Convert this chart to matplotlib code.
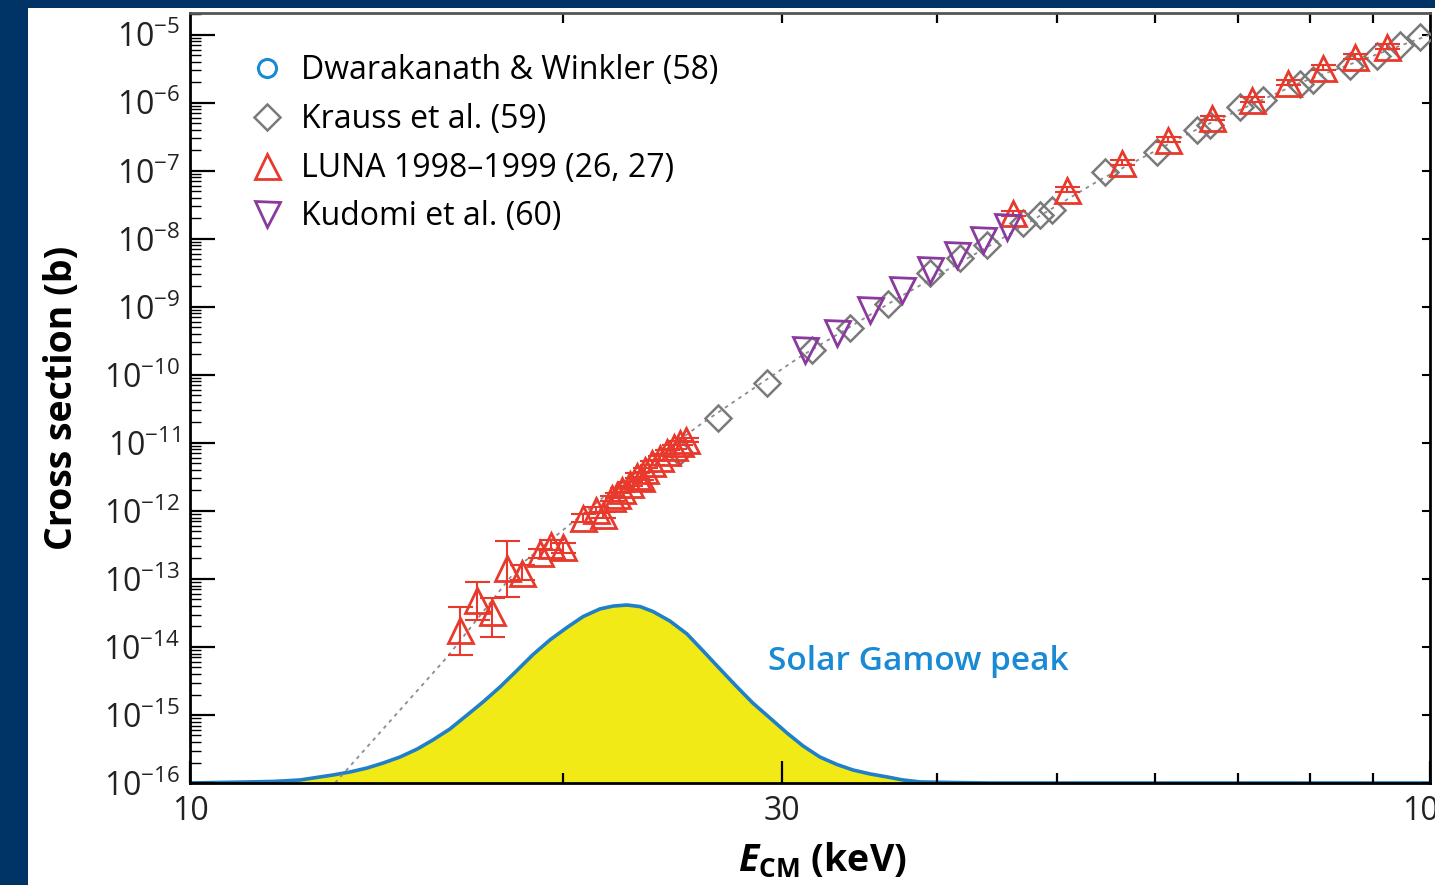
import numpy as np
import matplotlib
matplotlib.use("Agg")
import matplotlib.pyplot as plt
from matplotlib.patches import Rectangle
from matplotlib.ticker import LogLocator, NullFormatter, NullLocator, FixedLocator, FixedFormatter

plt.rcParams["font.family"] = ["Open Sans", "DejaVu Sans"]
plt.rcParams["mathtext.fontset"] = "custom"
plt.rcParams["mathtext.rm"] = "Open Sans"
plt.rcParams["mathtext.it"] = "Open Sans:italic"
plt.rcParams["mathtext.bf"] = "Open Sans:bold"
plt.rcParams["mathtext.bfit"] = "Open Sans:bold:italic"

# data (E in keV, cross section in barn)
dw_E = []
dw_sigma = []

krauss_E = [24.8, 26.66, 29.19, 31.73, 34.06, 36.55, 39.53, 41.78, 43.93, 46.96, 48.48,
            49.57, 54.7, 60.23, 64.89, 66.47, 70.29, 73.33, 78.56, 80.48, 86.2, 90.6, 94.6, 98.1]
krauss_sigma = [7.4e-12, 2.33e-11, 7.6e-11, 2.33e-10, 4.9e-10, 1.1e-9, 3.16e-9, 5.26e-9, 8.2e-9,
                1.72e-8, 2.25e-8, 2.67e-8, 9.66e-8, 1.9e-7, 4.0e-7, 4.74e-7, 8.7e-7, 1.11e-6,
                1.9e-6, 2.18e-6, 3.5e-6, 4.9e-6, 7.1e-6, 9.3e-6]

luna_E = [16.51, 17.04, 17.52, 18.02, 18.52, 19.15, 19.55, 19.98, 20.75, 21.26, 21.54,
          21.89, 22.1, 22.31, 22.64, 22.94, 23.1, 23.28, 23.59, 23.93, 24.25, 24.56, 24.84, 25.12,
          46.1, 50.96, 56.44, 61.46, 66.72, 71.87, 76.83, 81.98, 87.0, 92.3]
luna_sigma = [1.78e-14, 4.9e-14, 3.3e-14, 1.44e-13, 1.23e-13, 2.4e-13, 3.2e-13, 2.9e-13, 7.9e-13,
              1.04e-12, 8.7e-13, 1.55e-12, 1.7e-12, 2.04e-12, 2.5e-12, 3.3e-12, 3.0e-12, 4.0e-12,
              5.1e-12, 6.0e-12, 7.4e-12, 8.8e-12, 1.0e-11, 1.1e-11,
              2.41e-8, 5.26e-8, 1.31e-7, 2.86e-7, 6.0e-7, 1.11e-6, 1.97e-6, 3.27e-6, 4.74e-6, 6.7e-6]
luna_lo = [7.6e-15, 2.5e-14, 1.4e-14, 5.5e-14, 9.5e-14, 2.0e-13, 2.7e-13, 2.4e-13, 6.9e-13,
           9.3e-13, 7.8e-13, 1.42e-12, 1.56e-12, 1.88e-12, 2.3e-12, 3.05e-12, 2.8e-12, 3.7e-12,
           4.75e-12, 5.6e-12, 6.9e-12, 8.2e-12, 9.3e-12, 1.03e-11,
           2.2e-8, 4.8e-8, 1.2e-7, 2.62e-7, 5.5e-7, 1.02e-6, 1.8e-6, 3.0e-6, 4.35e-6, 6.15e-6]
luna_hi = [3.9e-14, 9.0e-14, 5.2e-14, 3.6e-13, 1.6e-13, 2.8e-13, 3.7e-13, 3.4e-13, 9.0e-13,
           1.15e-12, 9.6e-13, 1.68e-12, 1.84e-12, 2.2e-12, 2.7e-12, 3.55e-12, 3.2e-12, 4.3e-12,
           5.45e-12, 6.4e-12, 7.9e-12, 9.4e-12, 1.07e-11, 1.17e-11,
           2.6e-8, 5.7e-8, 1.42e-7, 3.1e-7, 6.5e-7, 1.2e-6, 2.14e-6, 3.55e-6, 5.15e-6, 7.25e-6]

kudomi_E = [31.33, 33.25, 35.35, 37.52, 39.53, 41.54, 43.6, 45.6]
kudomi_sigma = [2.33e-10, 4.15e-10, 9.0e-10, 1.78e-9, 3.5e-9, 5.8e-9, 9.7e-9, 1.5e-8]

fit_E = [13.09, 16.12, 18.46, 21.41, 25.77, 31.04, 37.37, 45.0, 54.2, 65.25, 78.56, 100.0]
fit_sigma = [1e-16, 7.1e-15, 1.6e-13, 1.45e-12, 1.84e-11, 1.84e-10, 1.4e-9, 9.7e-9, 7.4e-8,
             4.3e-7, 1.97e-6, 1e-5]

# Gamow peak, relative units (peak = 1)
gamow_E = [10.0, 11.18, 11.7, 12.27, 13.04, 13.46, 13.89, 14.31, 14.77, 15.25, 15.70, 16.20,
           16.73, 17.23, 17.78, 18.35, 18.91, 19.52, 20.14, 20.75, 21.41, 21.94, 22.51, 23.07,
           23.63, 24.38, 25.16, 25.93, 26.76, 27.62, 28.44, 29.36, 30.30, 31.22, 32.21, 33.25,
           34.25, 35.35, 36.49, 37.58, 38.80, 41.02, 44.18, 100.0]
gamow_rel = [0.0, 0.006, 0.009, 0.017, 0.045, 0.062, 0.084, 0.112, 0.146, 0.191, 0.242, 0.303,
             0.382, 0.455, 0.539, 0.632, 0.722, 0.805, 0.874, 0.935, 0.978, 0.994, 1.0, 0.991,
             0.963, 0.910, 0.838, 0.742, 0.640, 0.539, 0.449, 0.365, 0.281, 0.208, 0.146, 0.104,
             0.073, 0.051, 0.034, 0.017, 0.006, 0.003, 0.0, 0.0]

navy = "#003466"
red = "#e8392c"
grey = "#7a7a7a"
purple = "#8a3a9e"
blue = "#1a8ad4"

fig = plt.figure(figsize=(14.35, 8.85), dpi=100, facecolor=navy)
fig.patches.append(Rectangle((28 / 1435, 0), 1 - 28 / 1435, 1 - 8 / 885,
                             transform=fig.transFigure, facecolor="white",
                             edgecolor="none", zorder=-10))

ax = fig.add_axes([190 / 1435, 102 / 885, 1240 / 1435, 770 / 885])
ax2 = ax.twinx()
ax.set_zorder(ax2.get_zorder() + 1)
ax.patch.set_visible(False)

# gamow peak on a hidden linear axis
ax2.fill_between(gamow_E, 0, gamow_rel, color="#f2ea16", lw=0)
ax2.plot(gamow_E, gamow_rel, color="#1f7fc8", lw=2.6, solid_joinstyle="round")
ax2.set_ylim(0, 770 / 178)
ax2.axis("off")

ax.set_xscale("log")
ax.set_yscale("log")
ax.set_xlim(10, 100)
ax.set_ylim(1e-16, 10 ** -4.68)

ax.plot(fit_E, fit_sigma, color="#8c8c8c", lw=1.3, ls=(0, (2, 2.5)), zorder=1)

h_dw, = ax.plot(dw_E, dw_sigma, "o", ms=13, mfc="none", mec=blue, mew=2.2)
h_kr, = ax.plot(krauss_E, krauss_sigma, "D", ms=13, mfc="none", mec=grey, mew=1.8, zorder=3)
yerr = np.array([[s - lo for s, lo in zip(luna_sigma, luna_lo)],
                 [hi - s for s, hi in zip(luna_sigma, luna_hi)]])
ax.errorbar(luna_E, luna_sigma, yerr=yerr, fmt="none", ecolor=red, elinewidth=1.5,
            capsize=9, capthick=1.5, zorder=4)
h_lu, = ax.plot(luna_E, luna_sigma, "^", ms=18, mfc="none", mec=red, mew=2, zorder=4)
h_ku, = ax.plot(kudomi_E, kudomi_sigma, "v", ms=18, mfc="none", mec=purple, mew=2, zorder=4)

# ticks
ax.yaxis.set_major_locator(LogLocator(base=10, numticks=30))
ax.yaxis.set_minor_locator(LogLocator(base=10, subs=np.arange(2, 10), numticks=300))
ax.yaxis.set_minor_formatter(NullFormatter())
ax.xaxis.set_major_locator(FixedLocator([10, 30, 100]))
ax.xaxis.set_major_formatter(FixedFormatter(["10", "30", "100"]))
ax.xaxis.set_minor_locator(FixedLocator([20, 40, 50, 60, 70, 80, 90]))
ax.xaxis.set_minor_formatter(NullFormatter())
ax.tick_params(axis="y", which="major", direction="in", length=18, width=1.6,
               labelsize=23, pad=7, labelcolor="#222222")
ax.tick_params(axis="y", which="minor", direction="in", length=8, width=1.0)
ax.tick_params(axis="x", which="major", direction="in", length=16, width=1.6,
               labelsize=23, pad=9, labelcolor="#222222")
ax.tick_params(axis="x", which="minor", direction="in", length=7, width=1.6)

secy = ax.secondary_yaxis("right")
secy.yaxis.set_major_locator(LogLocator(base=10, numticks=30))
secy.yaxis.set_minor_locator(NullLocator())
secy.tick_params(direction="in", length=6, width=1.5, labelright=False)
secx = ax.secondary_xaxis("top")
secx.xaxis.set_major_locator(FixedLocator([20, 30, 40, 50, 60, 70, 80, 90]))
secx.xaxis.set_minor_locator(NullLocator())
secx.tick_params(direction="in", length=7, width=1.6, labeltop=False)

for sp in ax.spines.values():
    sp.set_linewidth(2)
ax.spines["top"].set_color("#555555")

ax.set_ylabel("Cross section (b)", fontsize=27, fontweight="bold", labelpad=16)
ax.set_xlabel(r"$\mathbfit{E}_{\mathbf{CM}}$ (keV)", fontsize=27, fontweight="bold",
              labelpad=9)
ax.xaxis.label.set_x(0.51)

ax.text(0.466, 0.158, "Solar Gamow peak", transform=ax.transAxes, color=blue,
        fontsize=24, fontweight="semibold", va="center", ha="left")

ax.legend([h_dw, h_kr, h_lu, h_ku],
          ["Dwarakanath & Winkler (58)", "Krauss et al. (59)",
           "LUNA 1998\u20131999 (26, 27)", "Kudomi et al. (60)"],
          loc="upper left", bbox_to_anchor=(0.034, 0.971), frameon=False, fontsize=23,
          handlelength=1.0, handletextpad=0.55, labelspacing=0.49, numpoints=1,
          borderaxespad=0.2)

fig.savefig("out.png", dpi=100, facecolor=navy)
